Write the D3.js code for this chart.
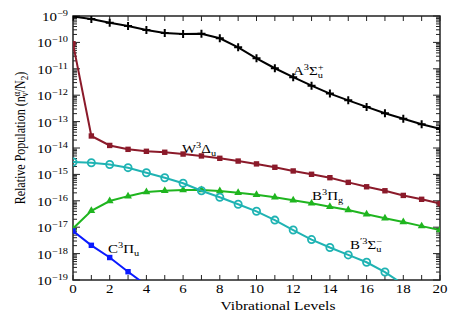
<!DOCTYPE html>
<html>
<head>
<meta charset="utf-8">
<script src="https://cdn.jsdelivr.net/npm/d3@7"></script>
<style>
  body { margin: 0; background: #fff; }
</style>
</head>
<body>
<div id="chart"></div>
<script>
// vibrational levels (x) and relative populations per state
const levels = [0, 1, 2, 3, 4, 5, 6, 7, 8, 9, 10, 11, 12, 13, 14, 15, 16, 17, 18, 19, 20];

const stateA = [9.5e-10, 7.7e-10, 5.6e-10, 4.2e-10, 2.95e-10, 2.27e-10, 2.1e-10, 2.14e-10, 1.43e-10, 6.5e-11,
  2.5e-11, 1.05e-11, 4.8e-12, 2.3e-12, 1.15e-12, 6.4e-13, 3.6e-13, 2.06e-13, 1.29e-13, 7.9e-14, 5.3e-14];
const stateW = [8.9e-11, 2.85e-14, 1.25e-14, 8.9e-15, 7.5e-15, 6.9e-15, 5.9e-15, 5.0e-15, 4.07e-15, 3.2e-15,
  2.5e-15, 1.86e-15, 1.35e-15, 1.01e-15, 7.5e-16, 5.0e-16, 3.4e-16, 2.4e-16, 1.6e-16, 1.14e-16, 7.8e-17];
const stateBp = [2.94e-15, 2.77e-15, 2.37e-15, 1.8e-15, 1.16e-15, 7.5e-16, 4.6e-16, 2.4e-16, 1.36e-16, 7.4e-17,
  4.0e-17, 1.86e-17, 7.8e-18, 3.4e-18, 1.7e-18, 8.9e-19, 4.7e-19, 2.0e-19, 6.8e-20];
const stateB = [9.0e-18, 4.2e-17, 9.8e-17, 1.5e-16, 2.15e-16, 2.4e-16, 2.57e-16, 2.57e-16, 2.35e-16, 2.03e-16,
  1.7e-16, 1.36e-16, 1.05e-16, 8.0e-17, 6.0e-17, 4.5e-17, 3.1e-17, 2.2e-17, 1.57e-17, 1.1e-17, 7.8e-18];
const stateC = [7.2e-18, 2.06e-18, 7.1e-19, 2.06e-19, 6.3e-20];

const xTickLabels = [0, 2, 4, 6, 8, 10, 12, 14, 16, 18, 20];
const yTickExponents = [-9, -10, -11, -12, -13, -14, -15, -16, -17, -18, -19];

const config = {
  width: 460, height: 322,
  margin: {top: 16, right: 20, bottom: 42, left: 73},
  font: "'Liberation Serif', 'DejaVu Serif', serif",
  stretch: 1.15   // reference text is drawn a little wide
};

const innerW = config.width - config.margin.left - config.margin.right;
const innerH = config.height - config.margin.top - config.margin.bottom;

const svg = d3.select('#chart').append('svg')
    .attr('width', config.width)
    .attr('height', config.height);

const x = d3.scaleLinear().domain([0, 20]).range([config.margin.left, config.margin.left + innerW]);
const y = d3.scaleLog().domain([1e-19, 1e-9]).range([config.margin.top + innerH, config.margin.top]);

svg.append('defs').append('clipPath').attr('id', 'plot-clip')
  .append('rect')
    .attr('x', x(0)).attr('y', y(1e-9))
    .attr('width', innerW).attr('height', innerH);

// ticks (inward, on all four sides)
const ticks = svg.append('g').attr('stroke', '#222').attr('stroke-width', 1);
const majorY = yTickExponents.map(e => Math.pow(10, e));
const minorY = [];
majorY.slice(1).forEach(d => { for (let k = 2; k <= 9; k++) minorY.push(d * k); });

[[x(0), 1], [x(20), -1]].forEach(([x0, dir]) => {
  ticks.selectAll(null).data(majorY).join('line')
    .attr('x1', x0).attr('x2', x0 + dir * 7)
    .attr('y1', d => y(d)).attr('y2', d => y(d));
  ticks.selectAll(null).data(minorY).join('line')
    .attr('x1', x0).attr('x2', x0 + dir * 4)
    .attr('y1', d => y(d)).attr('y2', d => y(d));
});
[[y(1e-19), -1], [y(1e-9), 1]].forEach(([y0, dir]) => {
  ticks.selectAll(null).data(levels).join('line')
    .attr('x1', d => x(d)).attr('x2', d => x(d))
    .attr('y1', y0).attr('y2', y0 + dir * 5);
});

// frame
svg.append('rect')
    .attr('x', x(0)).attr('y', y(1e-9))
    .attr('width', innerW).attr('height', innerH)
    .attr('fill', 'none').attr('stroke', '#222').attr('stroke-width', 1.5);

// rich text: parts = [text, mode] with mode '', 'sup', 'sub', 'subback' (sub stacked under previous sup)
function richText(parent, px, py, parts, opts = {}) {
  const size = opts.size || 13;
  const small = Math.round(size * 0.72);
  const scale = opts.rotate ? `scale(1,${config.stretch})` : `scale(${config.stretch},1)`;
  const t = parent.append('text')
      .attr('transform', `translate(${px},${py})${opts.rotate ? ` rotate(${opts.rotate})` : ''} ${scale}`)
      .attr('text-anchor', opts.anchor || 'start')
      .style('font-family', config.font)
      .style('font-size', size + 'px')
      .attr('fill', '#000');
  let cur = 0;
  parts.forEach(([s, mode]) => {
    const sp = t.append('tspan').text(s);
    let target = 0;
    if (mode === 'sup') { target = -size * 0.38; sp.style('font-size', small + 'px'); }
    else if (mode === 'sub' || mode === 'subback') {
      target = size * 0.25;
      sp.style('font-size', small + 'px');
      if (mode === 'subback') sp.attr('dx', -small * 0.56);
    }
    sp.attr('dy', target - cur);
    cur = target;
  });
  return t;
}

// tick labels
xTickLabels.forEach(d => richText(svg, x(d), 293, [[String(d), '']], {anchor: 'middle'}));
yTickExponents.forEach(e => richText(svg, 68, y(Math.pow(10, e)) + 5, [['10', ''], ['\u2212' + Math.abs(e), 'sup']], {anchor: 'end'}));

// axis titles
richText(svg, 278, 310, [['Vibrational Levels', '']], {anchor: 'middle', size: 13.5});
richText(svg, 25, 138, [['Relative Population (n', ''], ['\u03b1', 'sup'], ['v', 'subback'], ['/N', ''], ['2', 'sub'], [')', '']],
  {anchor: 'middle', rotate: -90, size: 12});

// series
const series = [
  {values: stateA, color: '#000000', marker: 'plus'},
  {values: stateW, color: '#8b1a2a', marker: 'square'},
  {values: stateB, color: '#1fb51f', marker: 'triangle'},
  {values: stateBp, color: '#1fb3b3', marker: 'circle'},
  {values: stateC, color: '#0a1aff', marker: 'square'}
];

const plot = svg.append('g').attr('clip-path', 'url(#plot-clip)');
const line = d3.line().x((d, i) => x(levels[i])).y(d => y(d));

series.forEach(s => {
  const g = plot.append('g');
  g.append('path').datum(s.values)
      .attr('d', line)
      .attr('fill', 'none')
      .attr('stroke', s.color)
      .attr('stroke-width', 2);
  const pts = g.selectAll(null).data(s.values).join('g')
      .attr('transform', (d, i) => `translate(${x(levels[i])},${y(d)})`);
  if (s.marker === 'plus') {
    pts.append('path').attr('d', 'M-4,0H4M0,-4V4').attr('stroke', s.color).attr('stroke-width', 2);
  } else if (s.marker === 'square') {
    pts.append('rect').attr('x', -2.7).attr('y', -2.7).attr('width', 5.4).attr('height', 5.4).attr('fill', s.color);
  } else if (s.marker === 'triangle') {
    pts.append('path').attr('d', d3.symbol(d3.symbolTriangle, 26)).attr('fill', s.color);
  } else {
    pts.append('circle').attr('r', 3.6).attr('fill', 'none').attr('stroke', s.color).attr('stroke-width', 1.8);
  }
});

// curve labels
richText(svg, 293, 75, [['A', ''], ['3', 'sup'], ['\u03a3', ''], ['+', 'sup'], ['u', 'subback']]);
richText(svg, 182, 153, [['W', ''], ['3', 'sup'], ['\u0394', ''], ['u', 'sub']]);
richText(svg, 312, 200, [['B', ''], ['3', 'sup'], ['\u03a0', ''], ['g', 'sub']]);
richText(svg, 350, 249, [['B', ''], ['\u20323', 'sup'], ['\u03a3', ''], ['\u2212', 'sup'], ['u', 'subback']]);
richText(svg, 108, 253, [['C', ''], ['3', 'sup'], ['\u03a0', ''], ['u', 'sub']]);
</script>
</body>
</html>
